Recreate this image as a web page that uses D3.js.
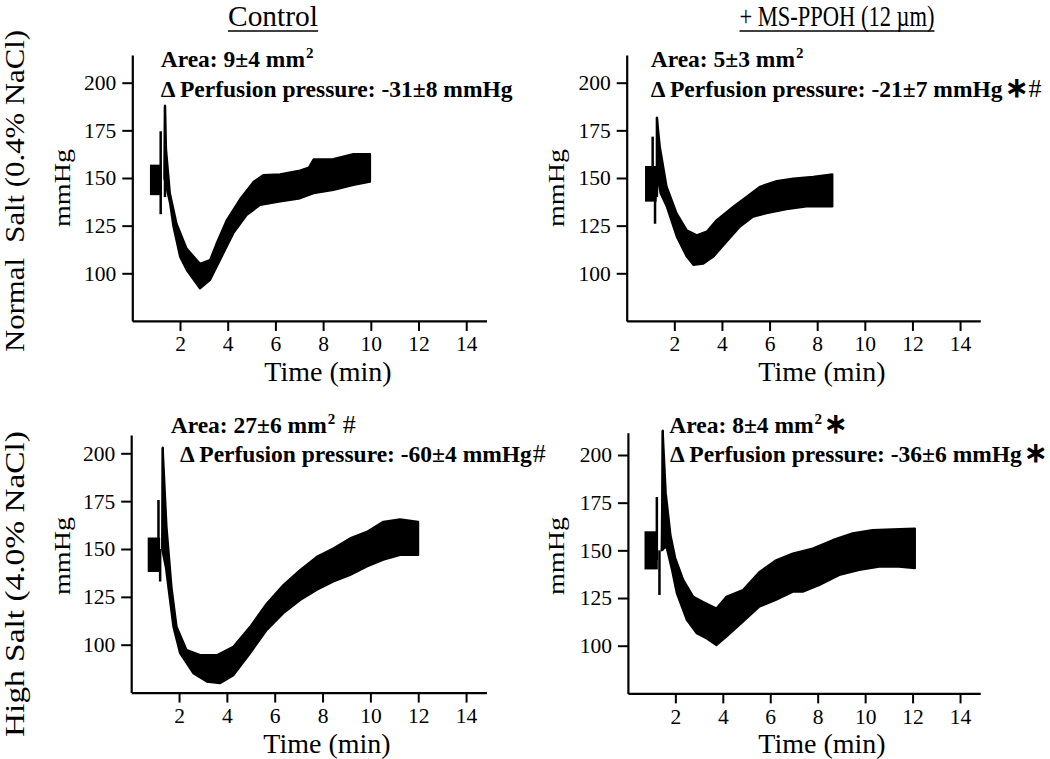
<!DOCTYPE html>
<html><head><meta charset="utf-8">
<script src="https://cdn.jsdelivr.net/npm/d3@7"></script>
<style>
body{margin:0;background:#fff}
text{font-family:"Liberation Serif","Times New Roman",serif;fill:#000}
</style>
</head><body>
<svg id="c" width="1050" height="759"></svg>
<script>
// ---------- data ----------
const xTicks = [2, 4, 6, 8, 10, 12, 14];
const yTicks = [100, 125, 150, 175, 200];
const colTitles = ["Control", "+ MS-PPOH (12 µm)"];
const rowTitles = ["Normal  Salt (0.4% NaCl)", "High Salt (4.0% NaCl)"];
const xTitle = "Time (min)";
const yTitle = "mmHg";

// baseline block [tStart, tEnd, low, high]
const ctrlNormalBlock = [0.74, 1.23, 141, 157];
const msNormalBlock   = [0.77, 1.26, 137.6, 156.3];
const ctrlHighBlock   = [0.69, 1.21, 138, 156];
const msHighBlock     = [0.70, 1.26, 140, 160];

// spikes [t, low, high]
const ctrlNormalSpikes = [[1.19, 131, 174.5], [1.37, 140, 188]];
const msNormalSpikes   = [[1.09, 145, 171.7], [1.19, 126, 145], [1.27, 140, 181.8]];
const ctrlHighSpikes   = [[1.14, 140, 175.6], [1.21, 133, 150], [1.32, 150, 203]];
const msHighSpikes     = [[1.22, 145, 178], [1.33, 126.6, 150], [1.47, 150, 212.8]];

// envelopes [t, mmHg]
const ctrlNormalUpper = [[1.37,188],[1.42,165],[1.58,142],[1.86,126],[2.28,113],[2.84,105],[3.26,107],[3.54,116],[3.96,128],[4.52,139],[5.08,148],[5.5,151.6],[6.2,152],[7.03,154],[7.4,155.5],[7.6,159.8],[8.43,160],[9.27,162.6],[9.97,162.6]];
const ctrlNormalLower = [[1.34,150],[1.58,136.7],[1.72,124.5],[2.0,108.7],[2.28,101.7],[2.84,92],[3.26,96.5],[3.68,107],[4.24,121],[4.8,130.6],[5.36,135.8],[6.2,137.6],[7.03,139.3],[7.6,142],[8.43,143.7],[9.27,146.3],[9.97,148]];

const msNormalUpper = [[1.27,181.8],[1.40,166],[1.68,145.5],[2.1,131.5],[2.52,122.7],[2.94,120],[3.36,121.9],[3.78,128],[4.48,135],[5.03,140.2],[5.6,145.5],[6.3,148.4],[7.0,149.8],[7.83,150.7],[8.64,152]];
const msNormalLower = [[1.30,150],[1.42,142],[1.68,135],[2.1,119.2],[2.52,108.7],[2.8,104.4],[3.22,105],[3.64,108.7],[4.2,116.6],[4.76,124.5],[5.31,129.7],[5.87,131.5],[6.71,133.6],[7.55,135],[8.64,135]];

const ctrlHighUpper = [[1.32,203],[1.48,161.7],[1.69,130],[1.9,109.4],[2.32,97.2],[2.88,94.6],[3.58,94.6],[4.27,99],[4.97,109.4],[5.67,121.6],[6.36,131.2],[7.06,139],[7.76,146],[8.45,150.3],[9.15,155.6],[9.85,159],[10.54,164.3],[11.24,165.5],[12.0,164.3]];
const ctrlHighLower = [[1.29,150],[1.45,140],[1.55,130],[1.76,109.4],[2.04,95.5],[2.6,85],[3.16,80.7],[3.71,79.8],[4.27,84],[4.97,95.5],[5.67,107.7],[6.36,116.4],[7.06,123.3],[7.76,128.6],[8.45,133],[9.15,136.4],[9.85,140.8],[10.54,144.3],[11.24,146.9],[12.0,146.9]];

const msHighUpper = [[1.47,212.8],[1.60,180],[1.80,158],[2.0,146],[2.34,134.4],[2.76,125.7],[3.17,123],[3.73,119.6],[4.15,125.7],[4.85,129.2],[5.55,138.8],[6.25,144.9],[6.95,148.4],[7.79,151],[8.63,155.4],[9.47,159],[10.31,160.7],[11.15,161],[12.1,161.5]];
const msHighLower = [[1.42,150],[1.62,152],[1.85,140],[2.06,127.4],[2.48,113.5],[2.9,106.5],[3.31,103.8],[3.73,100.3],[4.15,104.7],[4.85,112.6],[5.55,120.5],[6.25,124],[6.95,128.3],[7.37,128.3],[8.07,131.8],[8.91,137],[9.75,139.7],[10.59,141.4],[11.43,141.4],[12.1,140.6]];

// annotation lines: [text, kind]
const ctrlNormalNote = [[["Area: 9±4 mm","b"],["2","sup"]], [["Δ Perfusion pressure: -31±8 mmHg","b"]]];
const msNormalNote   = [[["Area: 5±3 mm","b"],["2","sup"]], [["Δ Perfusion pressure: -21±7 mmHg","b"],["∗","star"],["#","hash"]]];
const ctrlHighNote   = [[["Area: 27±6 mm","b"],["2","sup"],[" #","hash"]], [["Δ Perfusion pressure: -60±4 mmHg","b"],["#","hash"]]];
const msHighNote     = [[["Area: 8±4 mm","b"],["2","sup"],["∗","star"]], [["Δ Perfusion pressure: -36±6 mmHg","b"],["∗","star"]]];

// ---------- layout ----------
const panels = [
  {x0:132.3, x1:486.5, y100:273.3, y200:82.7, yMax:214.5, block:ctrlNormalBlock, spikes:ctrlNormalSpikes, up:ctrlNormalUpper, lo:ctrlNormalLower, note:ctrlNormalNote, nx:[160.7,160.7], ny:[67,97], ylx:69.5, yly:188, tx:328},
  {x0:626.7, x1:980.3, y100:273.3, y200:82.7, yMax:214.5, block:msNormalBlock, spikes:msNormalSpikes, up:msNormalUpper, lo:msNormalLower, note:msNormalNote, nx:[650.7,650.7], ny:[67,97], ylx:564, yly:188, tx:822},
  {x0:131.2, x1:486.4, y100:644.7, y200:453.3, yMax:209.6, block:ctrlHighBlock, spikes:ctrlHighSpikes, up:ctrlHighUpper, lo:ctrlHighLower, note:ctrlHighNote, nx:[170.7,180], ny:[433,462], ylx:69.5, yly:556, tx:327},
  {x0:627.9, x1:980.2, y100:645.7, y200:455, yMax:211.7, block:msHighBlock, spikes:msHighSpikes, up:msHighUpper, lo:msHighLower, note:msHighNote, nx:[669.3,670], ny:[433,462], ylx:564, yly:556, tx:822}
];

const svg = d3.select("#c");

panels.forEach((p, i) => {
  const x = d3.scaleLinear().domain([0, 14.85]).range([p.x0, p.x1]);
  const k = (p.y100 - p.y200) / 100;
  const y = d3.scaleLinear().domain([75, p.yMax]).range([p.y100 + 25 * k, p.y100 - (p.yMax - 100) * k]);
  const g = svg.append("g");

  // trace band
  const poly = p.up.concat(p.lo.slice().reverse());
  g.append("path")
    .attr("d", d3.line().x(d => x(d[0])).y(d => y(d[1]))(poly) + "Z")
    .attr("fill", "#000").attr("stroke", "#000").attr("stroke-width", 2).attr("stroke-linejoin", "round");
  // baseline block
  g.append("rect")
    .attr("x", x(p.block[0])).attr("width", x(p.block[1]) - x(p.block[0]))
    .attr("y", y(p.block[3])).attr("height", y(p.block[2]) - y(p.block[3]))
    .attr("fill", "#000");
  // spikes
  g.selectAll(".sp").data(p.spikes).enter().append("line")
    .attr("x1", d => x(d[0])).attr("x2", d => x(d[0]))
    .attr("y1", d => y(d[1])).attr("y2", d => y(d[2]))
    .attr("stroke", "#000").attr("stroke-width", 2.5);

  // axes
  const ax = g.append("g").attr("transform", `translate(0,${y(75)})`)
    .call(d3.axisBottom(x).tickValues(xTicks).tickSize(10).tickSizeOuter(0).tickPadding(5));
  const ay = g.append("g").attr("transform", `translate(${x(0)},0)`)
    .call(d3.axisLeft(y).tickValues(yTicks).tickSize(10).tickSizeOuter(0).tickPadding(6));
  [ax, ay].forEach(a => {
    a.select(".domain").attr("stroke-width", 2.2).attr("stroke", "#000");
    a.selectAll(".tick line").attr("stroke-width", 2).attr("stroke", "#000");
    a.selectAll(".tick text").style("font-family", '"Liberation Serif",serif').style("font-size", "21.5px").attr("fill", "#000");
  });

  // axis titles
  g.append("text").attr("x", p.tx).attr("y", y(75) + 60).attr("text-anchor", "middle")
    .style("font-size", "28px").text(xTitle);
  g.append("text").attr("transform", `translate(${p.ylx},${p.yly}) rotate(-90)`)
    .attr("text-anchor", "middle").style("font-size", "23px")
    .attr("textLength", 78).attr("lengthAdjust", "spacingAndGlyphs").text(yTitle);

  // annotation
  p.note.forEach((line, li) => {
    const t = g.append("text").attr("x", p.nx[li]).attr("y", p.ny[li]);
    let raised = false;
    line.forEach(([s, kind]) => {
      const ts = t.append("tspan").text(s);
      let dy = 0;
      if (kind === "sup") { ts.style("font-weight", "bold").style("font-size", "15px").attr("dx", 1); dy = -9; raised = true; }
      else if (raised) { dy = 9; raised = false; }
      if (dy) ts.attr("dy", dy);
      if (kind === "b") ts.style("font-weight", "bold").style("font-size", "23.5px");
      if (kind === "star") ts.style("font-weight", "bold").style("font-size", "28px").attr("dx", 2);
      if (kind === "hash") ts.style("font-size", "26px").attr("dx", 1);
    });
  });
});

// column titles
const colX = [273, 837];
const colLen = [90, 195];
colTitles.forEach((s, i) => {
  svg.append("text").attr("x", colX[i]).attr("y", 26).attr("text-anchor", "middle")
    .style("font-size", "30px").attr("textLength", colLen[i]).attr("lengthAdjust", "spacingAndGlyphs").text(s);
  svg.append("line").attr("x1", colX[i] - colLen[i] / 2).attr("x2", colX[i] + colLen[i] / 2)
    .attr("y1", 31).attr("y2", 31).attr("stroke", "#000").attr("stroke-width", 1.5);
});

// row titles
const rowY = [191, 584];
const rowLen = [322, 306];
rowTitles.forEach((s, i) => {
  svg.append("text").attr("transform", `translate(24,${rowY[i]}) rotate(-90)`)
    .attr("text-anchor", "middle").style("font-size", "27px")
    .attr("textLength", rowLen[i]).attr("lengthAdjust", "spacingAndGlyphs")
    .style("white-space", "pre").text(s);
});
</script>
</body></html>
